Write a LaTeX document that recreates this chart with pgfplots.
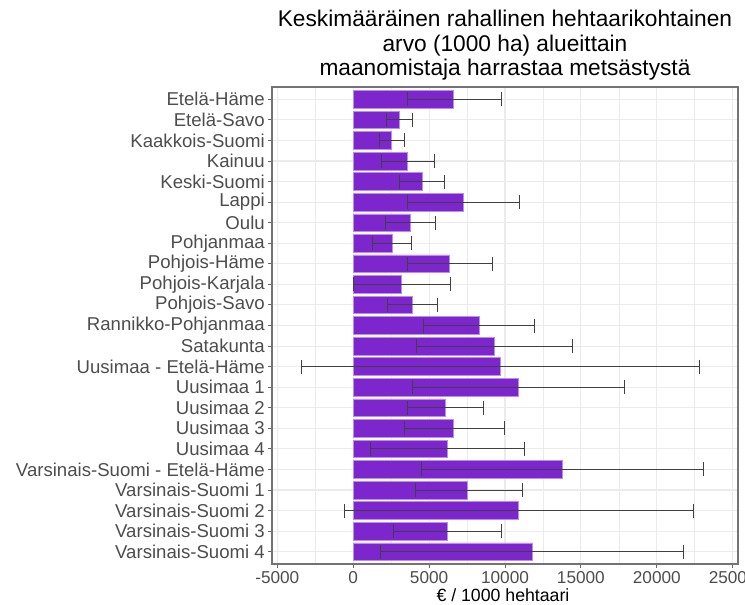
\documentclass[border=0pt]{standalone}
\usepackage{pgfplots}
\usepackage{pgfplotstable}
\pgfplotsset{compat=1.18}
\usepackage{fontspec}
\setmainfont{Liberation Sans}
\definecolor{barfill}{HTML}{7D26CD}
\definecolor{baredge}{HTML}{B88FE8}
\definecolor{ticklab}{HTML}{4D4D4D}
\definecolor{gridc}{HTML}{EBEBEB}
\definecolor{errc}{HTML}{404040}

\pgfplotstableread{
idx val lo hi
0 6600 3570 9760
1 3030 2210 3900
2 2520 1730 3360
3 3570 1860 5350
4 4540 3050 6030
5 7260 3570 10940
6 3750 2110 5440
7 2570 1270 3860
8 6360 3570 9170
9 3200 20 6400
10 3880 2260 5550
11 8290 4630 11930
12 9320 4190 14470
13 9690 -3400 22810
14 10860 3900 17870
15 6050 3570 8600
16 6600 3360 9980
17 6180 1120 11290
18 13750 4500 23050
19 7540 4080 11140
20 10900 -570 22410
21 6180 2650 9740
22 11800 1780 21780
}\datatable

\begin{document}
\begin{tikzpicture}
\path[use as bounding box] (-272pt,-41pt) rectangle (473pt,564pt);
\begin{axis}[
  at={(0pt,0pt)}, anchor=south west,
  scale only axis, width=466pt, height=477pt,
  xmin=-5350, xmax=25350,
  ymin=-0.6, ymax=22.6, y dir=reverse,
  scaled x ticks=false,
  xtick={-5000,0,5000,10000,15000,20000,25000},
  xticklabels={-5000,0,5000,10000,15000,20000,25000},
  minor xtick={-2500,2500,7500,12500,17500,22500},
  ytick={0,...,22},
  yticklabels={Etelä-Häme,Etelä-Savo,Kaakkois-Suomi,Kainuu,Keski-Suomi,Lappi,Oulu,Pohjanmaa,Pohjois-Häme,Pohjois-Karjala,Pohjois-Savo,Rannikko-Pohjanmaa,Satakunta,Uusimaa - Etelä-Häme,Uusimaa 1,Uusimaa 2,Uusimaa 3,Uusimaa 4,Varsinais-Suomi - Etelä-Häme,Varsinais-Suomi 1,Varsinais-Suomi 2,Varsinais-Suomi 3,Varsinais-Suomi 4},
  grid=both,
  major grid style={draw=gridc, line width=1.1pt},
  minor grid style={draw=gridc, line width=0.55pt},
  minor tick length=0pt,
  major tick length=3.7pt,
  tick align=outside,
  tick pos=left,
  tick style={draw=black!60, line width=0.9pt},
  axis line style={draw=black!55, line width=1.1pt},
  xticklabel style={font=\fontsize{17.2}{18}\selectfont, text=ticklab},
  yticklabel style={font=\fontsize{18.6}{20}\selectfont, text=ticklab},
  clip=false,
]
\addplot[xbar, bar width=0.86, fill=barfill, draw=baredge, line width=0.6pt]
  table[x=val, y=idx] {\datatable};
\addplot[draw=none, mark=none,
  error bars/.cd, x dir=both, x explicit,
  error mark=|,
  error bar style={draw=errc, line width=0.9pt},
  error mark options={draw=errc, line width=0.9pt, mark size=7pt}]
  table[x=val, y=idx,
    x error plus expr=\thisrow{hi}-\thisrow{val},
    x error minus expr=\thisrow{val}-\thisrow{lo}] {\datatable};
\end{axis}
\node[anchor=base, font=\fontsize{22.7}{24.5}\selectfont] at (233pt,537.3pt) {Keskimääräinen rahallinen hehtaarikohtainen};
\node[anchor=base, font=\fontsize{22.7}{24.5}\selectfont] at (233pt,512.3pt) {arvo (1000 ha) alueittain};
\node[anchor=base, font=\fontsize{22.7}{24.5}\selectfont] at (233pt,488pt) {maanomistaja harrastaa metsästystä};
\node[anchor=base, font=\fontsize{17.7}{19}\selectfont] at (231pt,-37.5pt) {€ / 1000 hehtaari};
\end{tikzpicture}
\end{document}
